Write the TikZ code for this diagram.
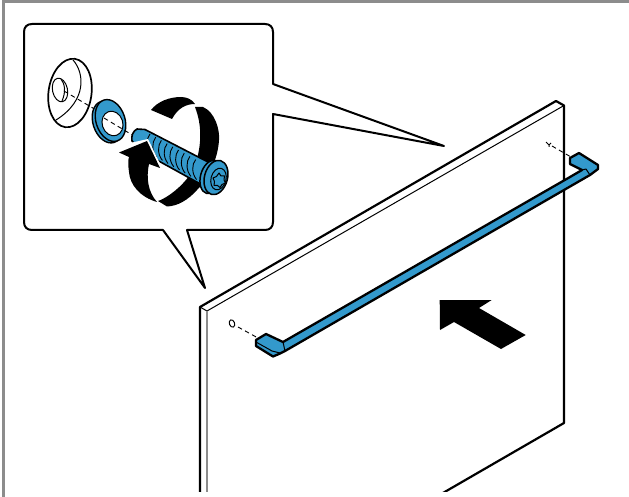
\documentclass[tikz,border=0pt]{standalone}
\definecolor{bluepart}{HTML}{3399CC}
\definecolor{frameg}{HTML}{8C8C8C}
\tikzset{
 ink/.style={line width=2pt,draw=black,line join=round},
 fine/.style={line width=1pt,draw=black,line join=round},
 part/.style={ink,fill=bluepart},
 dashline/.style={line width=0.9pt,draw=black,dash pattern=on 4.5pt off 3.5pt}
}
\begin{document}
\begin{tikzpicture}[x=1pt,y=-1pt]
\useasboundingbox (0,0) rectangle (629,497);
\fill[white] (0,0) rectangle (629,497);
\draw[frameg,line width=2.8pt] (3.5,497) -- (3.5,1.5) -- (629,1.5);
\begin{scope}
\clip (0,0) rectangle (629,491);
\draw[line width=2.2pt,line join=round] (200,495) -- (200,307) -- (556,101) -- (564,105.5) -- (564,423) -- (436,497);
\draw[line width=1pt] (200,307) -- (207,311) -- (564,105.5);
\draw[frameg,line width=1.5pt] (207,311) -- (207,495);
\end{scope}
% callout
\draw[ink,fill=white] (32,24) -- (265,24) .. controls (270,24) and (273,27) .. (273,32) -- (273,84) -- (444,146) -- (273,114) -- (273,222) .. controls (273,227) and (270,230) .. (265,230) -- (187,230) -- (205,288) -- (163,230) -- (32,230) .. controls (27,230) and (24,227) .. (24,222) -- (24,32) .. controls (24,27) and (27,24) .. (32,24) -- cycle;
% holes
\draw[fine] (232,323.5) ellipse[x radius=2.6,y radius=3.8,rotate=20];
\coordinate (hl) at (238,327);
\coordinate (hr) at (571,157);
\draw[dashline] (hl) -- (258,338);
\draw[dashline] (552,146) -- (hr);
\draw[fine] (546,142) -- (549,145) -- (549,147) (549,145) -- (551,143);
% rail
\draw[part,line width=2.3pt] (283,342) -- (570,177) -- (582,170) -- (570,164) -- (570,158) -- (579,153) -- (598,165) -- (598,169) -- (594,172) -- (590,175) -- (285,351) -- (279,354) -- (273,356.5) -- (256,346) -- (256,340) -- (266,334) -- cycle;
\draw[fine] (582,170) -- (586,169) -- (590,175);
\draw[fine] (283,342) -- (285,351);
\draw[fine] (256,342) -- (272,351) -- (280,353);
% big arrow
\fill[black] (439.7,300) -- (491.7,300) -- (479,308) -- (525.7,335) -- (501,349) -- (454,322) -- (440,330) -- cycle;
% cap
\draw[ink,line width=1.7pt,fill=white] (70,93) ellipse[x radius=21.5,y radius=34.5,rotate=-8];
\draw[fine] (73,60) .. controls (84,72) and (88,100) .. (56,120);
\draw[fine] (60,90) ellipse[x radius=7.5,y radius=12,rotate=12];
\draw[fine] (61,79) .. controls (65,84) and (66,92) .. (62,101);
% dashes behind the washer
\draw[dashline] (64,91) -- (108,117);
% washer
\draw[part,line width=1.4pt] (107.5,122) ellipse[x radius=14.5,y radius=21.5,rotate=18];
\draw[part,line width=1.4pt] (110.5,120.5) ellipse[x radius=14.5,y radius=21.5,rotate=18];
\draw[fine,fill=white] (112.5,123.5) ellipse[x radius=10.3,y radius=12.5,rotate=18];
\draw[dashline] (104,118) -- (134,136);
% rotation arrow band
\fill[black] (151,110) .. controls (158,101) and (170,97) .. (181,97) .. controls (186,97) and (192,99) .. (195,104) .. controls (186,104) and (178,108) .. (172,119) -- cycle;
\fill[black] (195,107) -- (203,107) .. controls (215,112) and (220,130) .. (219,140) .. controls (218,160) and (207,180) .. (197,190) .. controls (188,200) and (178,206) .. (167,206.5) -- (158,201) .. controls (170,197) and (190,180) .. (195,165) .. controls (202,145) and (202,125) .. (195,107) -- cycle;
% screw
\draw[part,line width=1.6pt] (137,129) -- (145,129.5) -- (208,162) -- (204,186) -- (146,154) -- (132,141) .. controls (131,136) and (133,131) .. (137,129) -- cycle;
\foreach \a in {0,1,...,8}{
 \draw[fine,line width=.9pt] ({150+\a*5.7},{134+\a*3.2}) .. controls ({146+\a*5.7},{139+\a*3.2}) and ({146+\a*5.7},{148+\a*3.2}) .. ({151+\a*5.7},{154+\a*3.2});
}
\draw[part,line width=1.5pt] (211,177) ellipse[x radius=10.5,y radius=17,rotate=-15];
\draw[part,line width=1.5pt] (216,177.5) ellipse[x radius=11.5,y radius=17.5,rotate=-15];
\draw[fine] (218.5,179) ellipse[x radius=7.5,y radius=11,rotate=-15];
\draw[fine,fill=bluepart] (219,173) -- (221,176) -- (224.5,176) -- (224,180) -- (225.5,183) -- (222,184.5) -- (220,187.5) -- (217.5,185.5) -- (214,185.5) -- (214.5,181.5) -- (213,178) -- (216.5,176.5) -- cycle;
% arrowhead over the screw
\fill[white] (130,143) -- (148,139) -- (163,170) -- (150,175) -- cycle;
\fill[black] (119,152.5) -- (147,141) -- (160,168) -- (149,164) .. controls (146,178) and (148,192) .. (157,202) .. controls (140,197) and (130,185) .. (129,172) .. controls (128,165) and (128,160) .. (129,157) -- cycle;
\end{tikzpicture}
\end{document}
